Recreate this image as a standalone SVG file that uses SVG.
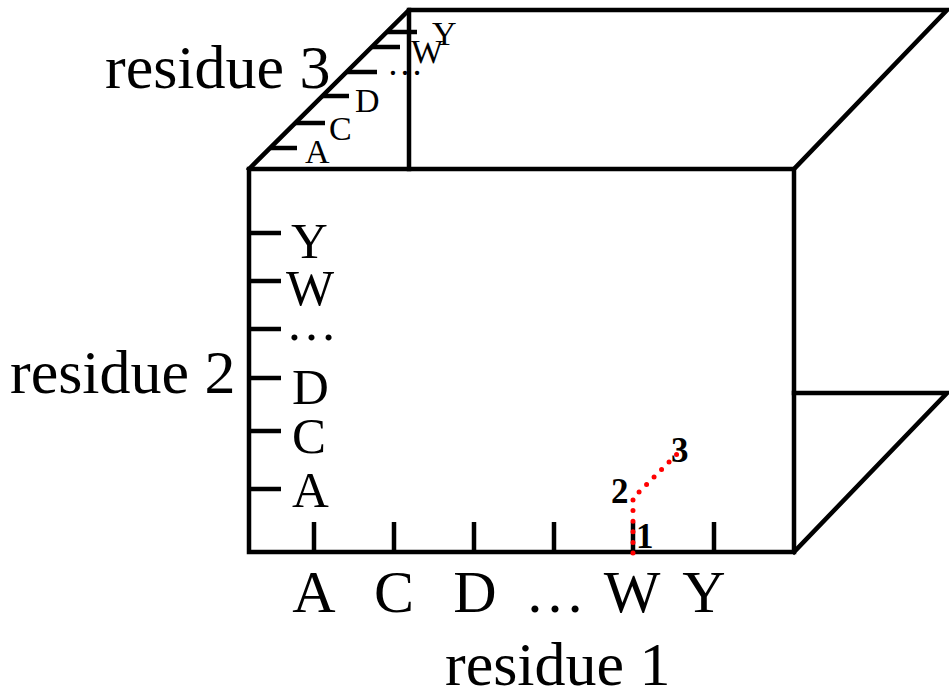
<svg xmlns="http://www.w3.org/2000/svg" width="949" height="694" viewBox="0 0 949 694">
  <style>
    .edge { fill: none; stroke: #000; stroke-width: 4.5; stroke-linejoin: miter; stroke-linecap: square; }
    .tick { fill: none; stroke: #000; stroke-width: 4.5; stroke-linecap: butt; }
    .lbl { font-family: "Liberation Serif", "Times New Roman", serif; fill: #000; }
    .axis { font-size: 60px; }
    .title { font-size: 62px; }
    .side { font-size: 51px; }
    .top { font-size: 34px; }
    .step { font-size: 35px; font-weight: bold; }
    .path { fill: none; stroke: #ff0000; stroke-width: 5; stroke-linecap: round; stroke-dasharray: 0 10.6; }
  </style>

  <!-- box outline -->
  <g id="box">
    <rect class="edge" x="249" y="169" width="545" height="383"/>
    <polyline class="edge" points="249,169 409,10 947,10 794,169"/>
    <line class="edge" x1="409" y1="10" x2="409" y2="169"/>
    <polyline class="edge" points="794,393 947,393 794,552"/>
  </g>

  <!-- residue 1 axis (bottom) -->
  <g id="axis-residue1">
    <line class="tick" x1="314" y1="522" x2="314" y2="552"/>
    <line class="tick" x1="394" y1="522" x2="394" y2="552"/>
    <line class="tick" x1="474" y1="522" x2="474" y2="552"/>
    <line class="tick" x1="554" y1="522" x2="554" y2="552"/>
    <line class="tick" x1="633" y1="522" x2="633" y2="552"/>
    <line class="tick" x1="714" y1="522" x2="714" y2="552"/>
    <g class="lbl axis" text-anchor="middle">
      <text x="314" y="612">A</text>
      <text x="394" y="612">C</text>
      <text x="475" y="612">D</text>
      <text x="555" y="612">…</text>
      <text x="632" y="612">W</text>
      <text x="704" y="612">Y</text>
    </g>
    <text class="lbl title" x="445" y="685">residue 1</text>
  </g>

  <!-- residue 2 axis (left) -->
  <g id="axis-residue2">
    <line class="tick" x1="249" y1="233" x2="281" y2="233"/>
    <line class="tick" x1="249" y1="281" x2="281" y2="281"/>
    <line class="tick" x1="249" y1="329" x2="281" y2="329"/>
    <line class="tick" x1="249" y1="378" x2="281" y2="378"/>
    <line class="tick" x1="249" y1="431" x2="281" y2="431"/>
    <line class="tick" x1="249" y1="489" x2="281" y2="489"/>
    <g class="lbl side">
      <text x="291" y="258">Y</text>
      <text x="286" y="305">W</text>
      <text x="286" y="340">…</text>
      <text x="292" y="404">D</text>
      <text x="292" y="453">C</text>
      <text x="292" y="507">A</text>
    </g>
    <text class="lbl title" x="10" y="393">residue 2</text>
  </g>

  <!-- residue 3 axis (depth) -->
  <g id="axis-residue3">
    <line class="tick" x1="271" y1="148" x2="297" y2="148"/>
    <line class="tick" x1="295" y1="123" x2="325" y2="123"/>
    <line class="tick" x1="322" y1="96" x2="349" y2="96"/>
    <line class="tick" x1="347" y1="72" x2="377" y2="72"/>
    <line class="tick" x1="372" y1="47" x2="400" y2="47"/>
    <line class="tick" x1="387" y1="32" x2="417" y2="32"/>
    <g class="lbl top">
      <text x="305" y="163">A</text>
      <text x="329" y="140">C</text>
      <text x="355" y="112">D</text>
      <text x="387" y="75" font-size="36">…</text>
      <text x="411" y="63">W</text>
      <text x="432" y="45">Y</text>
    </g>
    <text class="lbl title" x="105" y="88">residue 3</text>
  </g>

  <!-- path through residues 1 → 2 → 3 -->
  <g id="walk">
    <polyline class="path" points="633,553 633,498 678,453"/>
    <g class="lbl step">
      <text x="636" y="548">1</text>
      <text x="611" y="503">2</text>
      <text x="671" y="462">3</text>
    </g>
  </g>
</svg>
